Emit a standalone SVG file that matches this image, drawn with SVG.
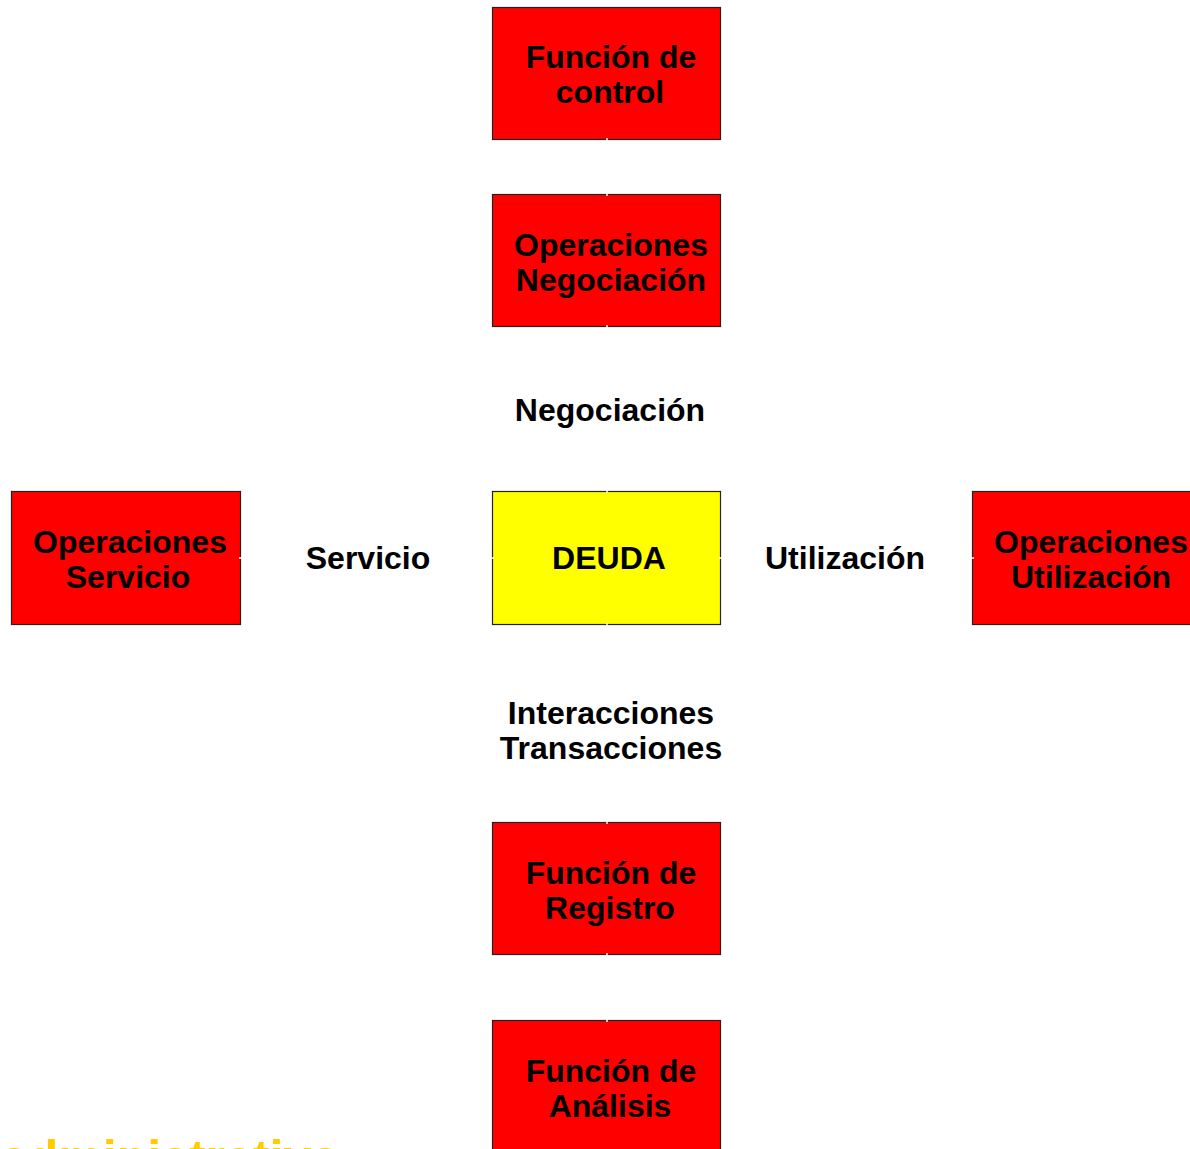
<svg xmlns="http://www.w3.org/2000/svg" width="1190" height="1149" viewBox="0 0 1190 1149">
<style>
.box{fill:#ff0000;stroke:#222;stroke-width:1.2}
.yel{fill:#ffff00;stroke:#222;stroke-width:1.2}
.t{font-family:"Liberation Sans",Arial,sans-serif;font-weight:bold;font-size:32px;fill:#000;text-anchor:middle}
.conn{stroke:#fff;stroke-width:1.5;fill:none}
</style>
<rect width="1190" height="1149" fill="#fff"/>
<g id="n-control"><rect class="box" x="492.5" y="7.5" width="228" height="132"/></g>
<g id="n-negociacion"><rect class="box" x="492.5" y="194.5" width="228" height="132"/></g>
<g id="n-deuda"><rect class="yel" x="492.5" y="491.5" width="228" height="133"/></g>
<g id="n-servicio"><rect class="box" x="11.5" y="491.5" width="229" height="133"/></g>
<g id="n-utilizacion"><rect class="box" x="972.5" y="491.5" width="230" height="133"/></g>
<g id="n-registro"><rect class="box" x="492.5" y="822.5" width="228" height="132"/></g>
<g id="n-analisis"><rect class="box" x="492.5" y="1020.5" width="228" height="140"/></g>
<g id="connectors">
<line class="conn" x1="607" y1="138" x2="607" y2="196"/>
<line class="conn" x1="607" y1="325" x2="607" y2="493"/>
<line class="conn" x1="607" y1="623" x2="607" y2="824"/>
<line class="conn" x1="607" y1="953" x2="607" y2="1022"/>
<line class="conn" x1="239" y1="558" x2="494" y2="558"/>
<line class="conn" x1="719" y1="558" x2="974" y2="558"/>
</g>
<g id="node-texts">
<text class="t" x="611" y="68">Función de</text><text class="t" x="610" y="103">control</text>
<text class="t" x="611" y="256">Operaciones</text><text class="t" x="611" y="291">Negociación</text>
<text class="t" x="609" y="569">DEUDA</text>
<text class="t" x="130" y="553">Operaciones</text><text class="t" x="128" y="588">Servicio</text>
<text class="t" x="1091" y="553">Operaciones</text><text class="t" x="1091" y="588">Utilización</text>
<text class="t" x="611" y="884">Función de</text><text class="t" x="610" y="919">Registro</text>
<text class="t" x="611" y="1082">Función de</text><text class="t" x="610" y="1117">Análisis</text>
</g>
<g id="labels">
<text class="t" x="610" y="421">Negociación</text>
<text class="t" x="368" y="569">Servicio</text>
<text class="t" x="845" y="569">Utilización</text>
<text class="t" x="611" y="724">Interacciones</text>
<text class="t" x="611" y="759">Transacciones</text>
<text x="0" y="1175" style="font-family:'Liberation Sans',Arial,sans-serif;font-weight:bold;font-size:50px;fill:#ffcc00">administrativa</text>
</g>
</svg>
